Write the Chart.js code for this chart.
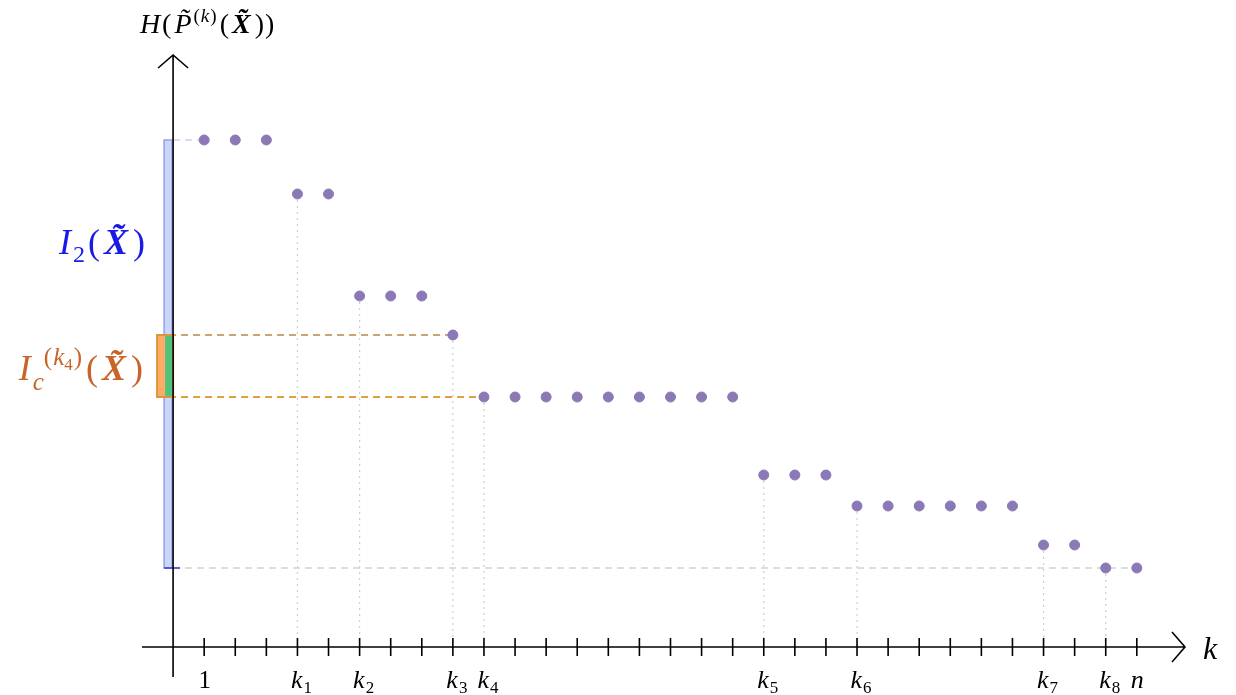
<!DOCTYPE html>
<html>
<head>
<meta charset="utf-8">
<script src="https://cdn.jsdelivr.net/npm/chart.js@4"></script>
<style>
  html, body { margin: 0; padding: 0; background: #fff; }
  #wrap { width: 1236px; height: 695px; }
</style>
</head>
<body>
<div id="wrap"><canvas id="chart"></canvas></div>
<script>
// k = 1..n and the sorted entropy values H(P~(k)(X~))
const ks = [1,2,3,4,5,6,7,8,9,10,11,12,13,14,15,16,17,18,19,20,21,22,23,24,25,26,27,28,29,30,31];
const H = [10.14,10.14,10.14, 9.06,9.06, 7.02,7.02,7.02, 6.24,
  5.0,5.0,5.0,5.0,5.0,5.0,5.0,5.0,5.0, 3.44,3.44,3.44,
  2.82,2.82,2.82,2.82,2.82,2.82, 2.04,2.04, 1.58,1.58];
// change points k_i, and their labels
const breakKs = [4, 6, 9, 10, 19, 22, 28, 30];
const tickNames = { 1: ['1', ''], 4: ['k', '1'], 6: ['k', '2'], 9: ['k', '3'], 10: ['k', '4'],
  19: ['k', '5'], 22: ['k', '6'], 28: ['k', '7'], 30: ['k', '8'], 31: ['n', ''] };
const k4 = 10, k3 = 9;

const SERIF = '"Liberation Serif", "DejaVu Serif", serif';
const val = k => H[k - 1];

// draws a list of [text, font, dy, gapAfter] pieces
function rich(ctx, parts, x, y, color, align) {
  let w = 0;
  parts.forEach(p => { ctx.font = p[1]; w += ctx.measureText(p[0]).width + (p[3] || 0); });
  let cx = align === 'right' ? x - w : align === 'center' ? x - w / 2 : x;
  ctx.fillStyle = color;
  ctx.textBaseline = 'alphabetic';
  ctx.textAlign = 'left';
  parts.forEach(p => {
    ctx.font = p[1];
    ctx.fillText(p[0], cx, y + (p[2] || 0));
    cx += ctx.measureText(p[0]).width + (p[3] || 0);
  });
}

const decorations = {
  id: 'decorations',
  beforeDatasetsDraw(chart) {
    const { ctx, scales: { x, y } } = chart;
    const x0 = x.getPixelForValue(0), y0 = y.getPixelForValue(0);
    ctx.save();

    // dotted drops from each change point
    ctx.strokeStyle = '#cfcfcf';
    ctx.lineWidth = 1.2;
    ctx.setLineDash([2, 4]);
    breakKs.forEach(k => {
      const px = x.getPixelForValue(k);
      ctx.beginPath();
      ctx.moveTo(px, y.getPixelForValue(val(k)));
      ctx.lineTo(px, y0);
      ctx.stroke();
    });

    // dashed guides for max and min
    ctx.setLineDash([7, 5]);
    ctx.lineWidth = 1.5;
    ctx.strokeStyle = '#d4d4d4';
    const yMin = y.getPixelForValue(H[H.length - 1]);
    ctx.beginPath(); ctx.moveTo(x0, yMin); ctx.lineTo(x.getPixelForValue(ks[ks.length - 1]), yMin); ctx.stroke();
    ctx.strokeStyle = '#c5d3ee';
    const yMax = y.getPixelForValue(H[0]);
    ctx.beginPath(); ctx.moveTo(x0, yMax); ctx.lineTo(x.getPixelForValue(1), yMax); ctx.stroke();

    // dashed guides for k3 and k4
    ctx.lineWidth = 2;
    ctx.strokeStyle = '#c9a578';
    const y3 = y.getPixelForValue(val(k3)), y4 = y.getPixelForValue(val(k4));
    ctx.beginPath(); ctx.moveTo(x0 - 16, y3); ctx.lineTo(x.getPixelForValue(k3), y3); ctx.stroke();
    ctx.strokeStyle = '#e0a040';
    ctx.beginPath(); ctx.moveTo(x0 - 16, y4); ctx.lineTo(x.getPixelForValue(k4), y4); ctx.stroke();
    ctx.setLineDash([]);

    // I2 interval bar
    ctx.fillStyle = '#c8d8f6';
    ctx.fillRect(x0 - 9, yMax, 8, yMin - yMax);
    ctx.strokeStyle = '#9a9cf0';
    ctx.lineWidth = 1.5;
    ctx.strokeRect(x0 - 9, yMax, 8, yMin - yMax);
    ctx.strokeStyle = '#3a3ad0';
    ctx.beginPath(); ctx.moveTo(x0 - 9, yMin); ctx.lineTo(x0 + 7, yMin); ctx.stroke();

    // Ic interval bar
    ctx.fillStyle = '#ffab66';
    ctx.fillRect(x0 - 16, y3, 16, y4 - y3);
    ctx.fillStyle = '#4fc27c';
    ctx.fillRect(x0 - 8, y3, 8, y4 - y3);
    ctx.strokeStyle = '#d9963a';
    ctx.lineWidth = 2;
    ctx.strokeRect(x0 - 16, y3, 16, y4 - y3);

    // axes with arrows
    ctx.strokeStyle = '#000';
    ctx.lineWidth = 1.6;
    const xL = x.left, xR = x.right, yT = y.top, yB = y.bottom;
    ctx.beginPath();
    ctx.moveTo(xL, y0); ctx.lineTo(xR, y0);
    ctx.moveTo(xR - 13, y0 - 15); ctx.lineTo(xR, y0); ctx.lineTo(xR - 13, y0 + 15);
    ctx.moveTo(x0, yB); ctx.lineTo(x0, yT);
    ctx.moveTo(x0 - 15, yT + 13); ctx.lineTo(x0, yT); ctx.lineTo(x0 + 15, yT + 13);
    ctx.stroke();

    // tick marks and labels
    ks.forEach(k => {
      const px = x.getPixelForValue(k);
      ctx.beginPath(); ctx.moveTo(px, y0 - 9); ctx.lineTo(px, y0 + 9); ctx.stroke();
      const nm = tickNames[k];
      if (nm) {
        const main = nm[0] === '1' ? '25px ' + SERIF : 'italic 26px ' + SERIF;
        const parts = [[nm[0], main, 0, 1]];
        if (nm[1]) parts.push([nm[1], '17px ' + SERIF, 5]);
        rich(ctx, parts, px + (nm[1] ? 4 : 1), y0 + 41, '#000', 'center');
      }
    });

    // axis titles
    rich(ctx, [['k', 'italic 32px ' + SERIF]], xR + 18, y0 + 12, '#000', 'left');
    rich(ctx, [['H', 'italic 28px ' + SERIF, 0, 2], ['(', '28px ' + SERIF, 0, 3], ['P\u0303', 'italic 28px ' + SERIF, 0, 2],
      ['(', '19px ' + SERIF, -11, 1], ['k', 'italic 19px ' + SERIF, -11, 1], [')', '19px ' + SERIF, -11, 3],
      ['(', '28px ' + SERIF, 0, 3], ['X\u0303', 'italic bold 28px ' + SERIF, 0, 4], [')', '28px ' + SERIF, 0, 1],
      [')', '28px ' + SERIF]],
      x0 + 34, 33, '#000', 'center');

    rich(ctx, [['I', 'italic 36px ' + SERIF, 0, 2], ['2', '24px ' + SERIF, 8, 3], ['(', '36px ' + SERIF, 0, 4],
      ['X\u0303', 'italic bold 36px ' + SERIF, 0, 5], [')', '36px ' + SERIF]],
      x0 - 28, 254, '#1a1ae6', 'right');
    rich(ctx, [['I', 'italic 36px ' + SERIF, 0, 2], ['c', 'italic 25px ' + SERIF, 10, 0],
      ['(', '25px ' + SERIF, -15, 1], ['k', 'italic 25px ' + SERIF, -15, 0], ['4', '17px ' + SERIF, -10, 1],
      [')', '25px ' + SERIF, -15, 4], ['(', '36px ' + SERIF, 0, 4], ['X\u0303', 'italic bold 36px ' + SERIF, 0, 5],
      [')', '36px ' + SERIF]],
      x0 - 30, 380, '#c8642a', 'right');

    ctx.restore();
  }
};

new Chart(document.getElementById('chart'), {
  type: 'scatter',
  data: {
    datasets: [{
      data: ks.map((k, i) => ({ x: k, y: H[i] })),
      backgroundColor: '#8b79b6',
      borderColor: '#8b79b6',
      pointRadius: 5,
      pointHoverRadius: 5
    }]
  },
  options: {
    responsive: true,
    maintainAspectRatio: false,
    animation: false,
    events: [],
    layout: { padding: { left: 142, right: 51, top: 55, bottom: 18 } },
    plugins: { legend: { display: false }, tooltip: { enabled: false } },
    scales: {
      x: { type: 'linear', min: -1.0, max: 32.55, display: false },
      y: { type: 'linear', min: -0.6, max: 11.84, display: false }
    }
  },
  plugins: [decorations]
});
</script>
</body>
</html>
